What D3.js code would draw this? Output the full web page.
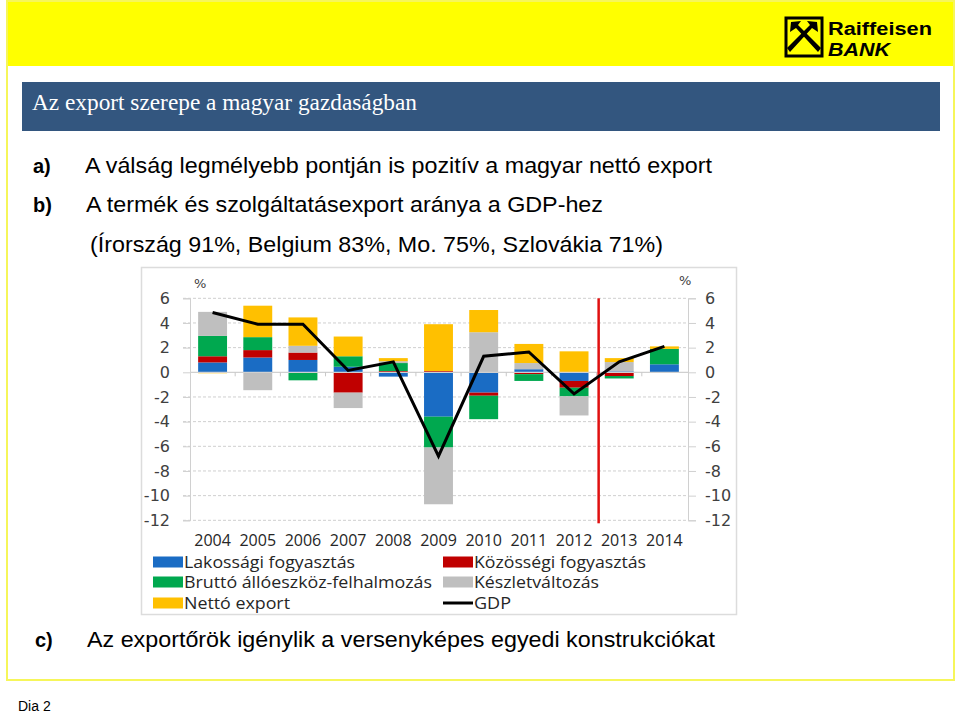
<!DOCTYPE html>
<html>
<head>
<meta charset="utf-8">
<script src="https://cdn.jsdelivr.net/npm/d3@7"></script>
<style>
  html, body { margin: 0; padding: 0; background: #fff; }
  svg { display: block; }
</style>
</head>
<body>
<svg id="slide" width="960" height="713"></svg>
<script>
// ---- Data ----
const years = ["2004","2005","2006","2007","2008","2009","2010","2011","2012","2013","2014"];
const lakossagi = [0.8, 1.2, 1.0, 0.45, -0.35, -3.6, -1.65, 0.25, -0.7, 0.08, 0.65];   // Lakossági fogyasztás
const kozossegi = [0.5, 0.6, 0.6, -1.65, 0.1, 0.1, -0.25, -0.15, -0.55, -0.3, 0];       // Közösségi fogyasztás
const brutto    = [1.65, 1.05, -0.65, 0.85, 0.65, -2.5, -1.9, -0.55, -0.7, -0.2, 1.25]; // Bruttó állóeszköz-felhalmozás
const keszlet   = [1.95, -1.45, 0.55, -1.25, 0.15, -4.6, 3.25, 0.5, -1.55, 0.75, 0];    // Készletváltozás
const netto     = [-0.08, 2.55, 2.3, 1.6, 0.25, 3.8, 1.8, 1.55, 1.7, 0.32, 0.2];        // Nettó export
const gdp       = [4.85, 3.9, 3.9, 0.15, 0.85, -6.8, 1.3, 1.65, -1.75, 0.85, 2.1];      // GDP
const yTicks = [6, 4, 2, 0, -2, -4, -6, -8, -10, -12];
const yTickLabels = ["6", "4", "2", "0", "-2", "-4", "-6", "-8", "-10", "-12"];
const seriesNames = ["Lakossági fogyasztás", "Közösségi fogyasztás", "Bruttó állóeszköz-felhalmozás", "Készletváltozás", "Nettó export"];
const seriesKeys = ["lak", "koz", "bru", "kesz", "net"];
const seriesColors = ["#1a6cc4", "#c00000", "#00a84f", "#bfbfbf", "#ffc000"];
const forecastAfter = "2012";

const svg = d3.select("#slide");

// ---- Slide decoration ----
svg.append("rect").attr("x", 6).attr("y", 0).attr("width", 949).attr("height", 66).attr("fill", "#ffff00");
svg.append("rect").attr("x", 7).attr("y", 1).attr("width", 947).attr("height", 679)
  .attr("fill", "none").attr("stroke", "#f6f65a").attr("stroke-width", 2);

// Logo
const logo = svg.append("g");
logo.append("rect").attr("x", 786).attr("y", 18).attr("width", 36).attr("height", 38)
  .attr("fill", "#ffff00").attr("stroke", "#000").attr("stroke-width", 3);
logo.append("path").attr("d", "M790,52 L812,28 L818,32 L817,22 L807,21 L810,25 L787,48 Z").attr("fill", "#000");
logo.append("path").attr("d", "M818,52 L796,28 L790,32 L791,22 L801,21 L798,25 L821,48 Z").attr("fill", "#000");
logo.append("text").attr("x", 828).attr("y", 35).attr("font-family", "Liberation Sans, Arial, sans-serif")
  .attr("font-weight", "bold").attr("font-size", 18).attr("textLength", 104).attr("lengthAdjust", "spacingAndGlyphs")
  .attr("fill", "#000").text("Raiffeisen");
logo.append("text").attr("x", 828).attr("y", 56).attr("font-family", "Liberation Sans, Arial, sans-serif")
  .attr("font-weight", "bold").attr("font-style", "italic").attr("font-size", 18).attr("textLength", 62).attr("lengthAdjust", "spacingAndGlyphs")
  .attr("fill", "#000").text("BANK");

// Title bar
svg.append("rect").attr("x", 22).attr("y", 82).attr("width", 918).attr("height", 49).attr("fill", "#33567f");
svg.append("text").attr("x", 32).attr("y", 110).attr("font-family", "Liberation Serif, DejaVu Serif, serif")
  .attr("font-size", 24).attr("fill", "#fff").attr("textLength", 385).attr("lengthAdjust", "spacingAndGlyphs")
  .text("Az export szerepe a magyar gazdaságban");

// Bullet text
const bodyFont = "Liberation Sans, Arial, sans-serif";
function line(label, x0, text, x1, y, len) {
  if (label) svg.append("text").attr("x", x0).attr("y", y).attr("font-family", bodyFont).attr("font-weight", "bold")
    .attr("font-size", 20).attr("fill", "#000").text(label);
  svg.append("text").attr("x", x1).attr("y", y).attr("font-family", bodyFont).attr("font-size", 22)
    .attr("fill", "#000").attr("textLength", len).attr("lengthAdjust", "spacingAndGlyphs").text(text);
}
line("a)", 33, "A válság legmélyebb pontján is pozitív a magyar nettó export", 85, 173, 627);
line("b)", 33, "A termék és szolgáltatásexport aránya a GDP-hez", 86, 212, 517);
line(null, 0, "(Írország 91%, Belgium 83%, Mo. 75%, Szlovákia 71%)", 90, 252, 573);
line("c)", 35, "Az exportőrök igénylik a versenyképes egyedi konstrukciókat", 87, 647, 628);
svg.append("text").attr("x", 18).attr("y", 711).attr("font-family", bodyFont).attr("font-size", 14)
  .attr("fill", "#000").text("Dia 2");

// ---- Chart ----
const chart = svg.append("g");
chart.append("rect").attr("x", 141.5).attr("y", 267.5).attr("width", 595).attr("height", 347)
  .attr("fill", "#fff").attr("stroke", "#dcdcdc").attr("stroke-width", 1.5);

const x = d3.scaleBand().domain(years).range([190, 687]).paddingInner(0.36).paddingOuter(0.18);
const y = d3.scaleLinear().domain([-12, 6]).range([520.3, 298.3]);
const axisFont = "DejaVu Sans, Verdana, sans-serif";
const tickFmt = d => yTickLabels[yTicks.indexOf(d)];

// gridlines
chart.append("g").selectAll("line").data(yTicks.filter(d => d !== 0)).join("line")
  .attr("x1", 183).attr("x2", 688).attr("y1", d => y(d)).attr("y2", d => y(d))
  .attr("stroke", "#cfcfcf").attr("stroke-width", 1).attr("stroke-dasharray", "3,2");

// left & right axes
const leftAxis = d3.axisLeft(y).tickValues(yTicks).tickSize(7).tickFormat(tickFmt);
const gl = chart.append("g").attr("transform", "translate(190,0)").call(leftAxis);
const rightAxis = d3.axisRight(y).tickValues(yTicks).tickSize(8).tickFormat(tickFmt);
const gr = chart.append("g").attr("transform", "translate(688,0)").call(rightAxis);
[gl, gr].forEach(g => {
  g.select(".domain").attr("stroke", "#d0d0d0");
  g.selectAll(".tick line").attr("stroke", "#d0d0d0");
  g.selectAll(".tick text").attr("font-family", axisFont).attr("font-size", 16).attr("fill", "#404040");
});
gl.selectAll(".tick text").attr("x", -20);
gr.selectAll(".tick text").attr("x", 17);

chart.append("text").attr("x", 194).attr("y", 288).attr("font-family", axisFont).attr("font-size", 13).attr("fill", "#404040").text("%");
chart.append("text").attr("x", 679).attr("y", 285).attr("font-family", axisFont).attr("font-size", 13).attr("fill", "#404040").text("%");

// stacked bars
const rows = years.map((yr, i) => ({ year: yr, lak: lakossagi[i], koz: kozossegi[i], bru: brutto[i], kesz: keszlet[i], net: netto[i] }));
const stack = d3.stack().keys(seriesKeys).offset(d3.stackOffsetDiverging).order(d3.stackOrderNone);
const stacked = stack(rows);
chart.append("g").selectAll("g").data(stacked).join("g")
  .attr("fill", (d, i) => seriesColors[i])
  .selectAll("rect").data(d => d).join("rect")
  .attr("x", d => x(d.data.year))
  .attr("width", x.bandwidth())
  .attr("y", d => y(Math.max(d[0], d[1])))
  .attr("height", d => Math.abs(y(d[0]) - y(d[1])));

// zero line with category ticks
chart.append("line").attr("x1", 190).attr("x2", 688).attr("y1", y(0)).attr("y2", y(0))
  .attr("stroke", "#d0d0d0").attr("stroke-width", 1.2);
chart.append("g").selectAll("line").data(years.slice(1)).join("line")
  .attr("x1", d => x(d) - x.step() * x.paddingInner() / 2).attr("x2", d => x(d) - x.step() * x.paddingInner() / 2)
  .attr("y1", y(0)).attr("y2", y(0) + 4).attr("stroke", "#c8c8c8");

// x axis labels
chart.append("g").selectAll("text").data(years).join("text")
  .attr("x", d => x(d) + x.bandwidth() / 2).attr("y", 546).attr("text-anchor", "middle")
  .attr("font-family", "Open Sans, DejaVu Sans, sans-serif").attr("font-size", 16).attr("fill", "#262626")
  .text(d => d);

// forecast divider
const divX = (x(forecastAfter) + x.bandwidth() + x(years[years.indexOf(forecastAfter) + 1])) / 2 + 2;
chart.append("line").attr("x1", divX).attr("x2", divX).attr("y1", y(6)).attr("y2", y(-12) + 3)
  .attr("stroke", "#e01010").attr("stroke-width", 2.5);

// GDP line
const gdpLine = d3.line().x((d, i) => x(years[i]) + x.bandwidth() / 2).y(d => y(d));
chart.append("path").datum(gdp).attr("d", gdpLine).attr("fill", "none")
  .attr("stroke", "#000").attr("stroke-width", 3).attr("stroke-linejoin", "miter");

// legend
const legendItems = [
  { name: seriesNames[0], color: seriesColors[0], col: 0, row: 0, w: 171 },
  { name: seriesNames[1], color: seriesColors[1], col: 1, row: 0, w: 172 },
  { name: seriesNames[2], color: seriesColors[2], col: 0, row: 1, w: 248 },
  { name: seriesNames[3], color: seriesColors[3], col: 1, row: 1, w: 125 },
  { name: seriesNames[4], color: seriesColors[4], col: 0, row: 2, w: 106 },
  { name: "GDP", color: "#000", col: 1, row: 2, line: true, w: 37 }
];
const colX = [153, 443], rowY = [562, 582, 603];
const lg = chart.append("g").selectAll("g").data(legendItems).join("g")
  .attr("transform", d => `translate(${colX[d.col]},${rowY[d.row]})`);
lg.filter(d => !d.line).append("rect").attr("x", 0).attr("y", -5.5).attr("width", 30).attr("height", 11).attr("fill", d => d.color);
lg.filter(d => d.line).append("line").attr("x1", 0).attr("x2", 30).attr("y1", 0).attr("y2", 0).attr("stroke", "#000").attr("stroke-width", 3);
lg.append("text").attr("x", 31).attr("y", 6).attr("font-family", "Open Sans, DejaVu Sans, sans-serif")
  .attr("font-size", 16).attr("fill", "#262626").attr("textLength", d => d.w).attr("lengthAdjust", "spacingAndGlyphs")
  .text(d => d.name);
</script>
</body>
</html>
